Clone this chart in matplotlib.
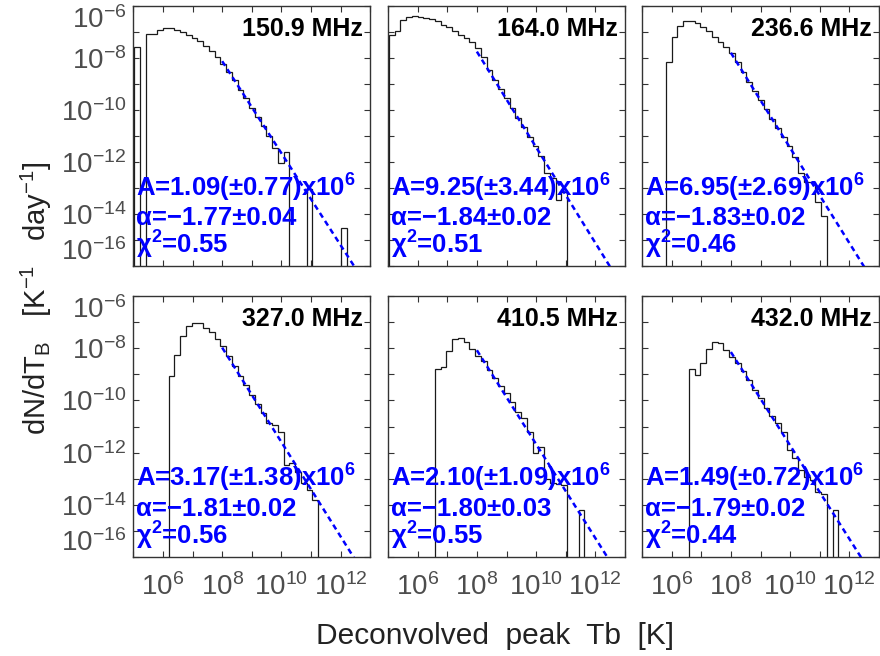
import numpy as np
import matplotlib
matplotlib.use("Agg")
import matplotlib.pyplot as plt
from matplotlib.ticker import NullLocator

plt.rcParams["font.family"] = ["Liberation Sans", "DejaVu Sans"]
plt.rcParams["mathtext.fontset"] = "custom"
plt.rcParams["mathtext.rm"] = "Liberation Sans"
plt.rcParams["mathtext.it"] = "Liberation Sans:italic"
plt.rcParams["mathtext.bf"] = "Liberation Sans:bold"
plt.rcParams["mathtext.default"] = "regular"

N = None

# Observing frequencies and power-law fit results dN/dT_B = A * T_B^alpha
freq_mhz = ["150.9", "164.0", "236.6", "327.0", "410.5", "432.0"]
amp = [1.09, 9.25, 6.95, 3.17, 2.10, 1.49]
amp_err = [0.77, 3.44, 2.69, 1.38, 1.09, 0.72]
alpha = [-1.77, -1.84, -1.83, -1.81, -1.80, -1.79]
alpha_err = [0.04, 0.02, 0.02, 0.02, 0.03, 0.02]
chi2 = [0.55, 0.51, 0.46, 0.56, 0.55, 0.44]
AMP_EXP = 6
FIT_TMIN = 1e8

# Histograms: log10(dN/dT_B) per logarithmic Tb bin (None = empty bin)
BIN_LO = 5.03     # log10 of the first bin edge [K]
BIN_DEX = 0.194   # bin width in dex

logdens_1509 = [-7.56, N, -7.09, -7.09, -6.92, -6.85, -6.83, -6.92, -7.00, -7.10,
                -7.22, -7.36, -7.52, -7.72, -7.95, -8.22, -8.55, -8.85, -9.22, -9.55,
                -9.92, -10.25, -10.62, -11.00, -11.47, -12.05, -11.60, N, N, N,
                -13.05, N, N, N, N, N, -14.55, N]
logdens_1640 = [-7.10, -6.95, -6.54, -6.44, -6.40, -6.41, -6.46, -6.51, -6.59, -6.72,
                -6.82, -6.95, -7.10, -7.24, -7.40, -7.62, -7.98, -8.45, -8.85, -9.18,
                -9.55, -9.93, -10.30, -10.66, -11.02, -11.38, -11.75, -12.42, -12.60, -13.45,
                -13.15, N, N, N, N, N, N, N]
logdens_2366 = [N, N, N, N, -8.17, -7.21, -6.76, -6.56, -6.59, -6.67,
                -6.80, -6.95, -7.18, -7.37, -7.56, -7.82, -8.15, -8.55, -8.92, -9.25,
                -9.62, -9.98, -10.33, -10.70, -11.05, -11.40, -11.80, -12.42, -12.75, -12.78,
                -13.55, -14.08, N, N, N, N, N, N]
logdens_3270 = [N, N, N, N, N, N, -9.05, -8.26, -7.53, -7.15,
                -7.02, -7.05, -7.21, -7.39, -7.66, -7.92, -8.30, -8.70, -9.05, -9.42,
                -9.78, -10.12, -10.50, -10.85, -10.95, -11.20, -12.48, -12.39, -12.73, -13.18,
                -13.43, -13.82, N, N, N, N, N, N]
logdens_4105 = [N, N, N, N, N, N, N, N, -8.81, -8.73,
                -8.09, -7.66, -7.62, -7.75, -8.04, -8.30, -8.50, -8.85, -9.15, -9.45,
                -9.73, -10.05, -10.43, -10.69, -11.20, -12.00, -11.77, -13.00, -13.15, -13.20,
                -13.25, N, N, -14.20, N, N, N, N]
logdens_4320 = [N, N, N, N, N, N, N, N, -8.81, -9.03,
                -8.58, -8.04, -7.75, -7.79, -8.07, -8.35, -8.55, -8.88, -9.22, -9.60,
                -9.92, -10.28, -10.60, -10.88, -11.20, -11.90, -12.22, -12.67, -12.95, -13.05,
                -13.50, -13.60, N, -14.20, N, N, N, N]

histograms = [logdens_1509, logdens_1640, logdens_2366,
              logdens_3270, logdens_4105, logdens_4320]

XMIN, XMAX = 10 ** 5.1, 1e13
YMIN, YMAX = 1e-16, 1e-6
ZERO = 1e-30

FIG_W, FIG_H = 880, 656
fig = plt.figure(figsize=(FIG_W / 100, FIG_H / 100), dpi=100)

col_left = [133.3, 388.0, 642.0]
col_width = 237.0
row_box = [(6.0, 266.0), (296.0, 557.0)]

tick_col = "#4d4d4d"
x_exps = np.arange(5, 14)
y_exps = np.arange(-16, -5)

for i in range(6):
    r, c = divmod(i, 3)
    top, bot = row_box[r]
    ax = fig.add_axes([col_left[c] / FIG_W, 1 - bot / FIG_H,
                       col_width / FIG_W, (bot - top) / FIG_H])
    ax.set_xscale("log")
    ax.set_yscale("log")
    ax.set_xlim(XMIN, XMAX)
    ax.set_ylim(YMIN, YMAX)

    # histogram outline, empty bins drop to the bottom
    vals = np.array([np.nan if v is None else v for v in histograms[i]], float)
    dens = np.where(np.isnan(vals), ZERO, 10.0 ** vals)
    edges = 10.0 ** (BIN_LO + BIN_DEX * np.arange(len(dens) + 1))
    ax.stairs(dens, edges, baseline=ZERO, color="#1a1a1a", lw=0.9, zorder=2)

    # power-law fit
    t = np.array([FIT_TMIN, XMAX])
    ax.plot(t, amp[i] * 10.0 ** AMP_EXP * t ** alpha[i], color="#0000ff",
            lw=1.8, ls=(0, (2.2, 1.6)), zorder=3)

    # ticks every decade, labels every second decade
    xticks = 10.0 ** x_exps
    yticks = 10.0 ** y_exps
    xlabels = [f"$10^{{{e}}}$" if (r == 1 and e % 2 == 0 and e > 5) else "" for e in x_exps]
    ylabels = [f"$10^{{{e}}}$" if (c == 0 and e % 2 == 0) else "" for e in y_exps]
    ax.set_xticks(xticks, xlabels)
    ax.set_yticks(yticks, ylabels)
    ax.xaxis.set_minor_locator(NullLocator())
    ax.yaxis.set_minor_locator(NullLocator())
    ax.tick_params(which="major", direction="in", top=True, right=True,
                   length=4.5, width=0.8, color="#333333",
                   labelsize=20, labelcolor=tick_col)
    ax.tick_params(axis="x", pad=12)
    ax.tick_params(axis="y", pad=5)
    if c == 0:
        ylabs = ax.get_yticklabels()
        ylabs[0].set_va("bottom")
        ylabs[-1].set_va("top")
    for sp in ax.spines.values():
        sp.set_color("#333333")
        sp.set_linewidth(1.0)

    ax.text(0.969, 0.885, f"{freq_mhz[i]} MHz", transform=ax.transAxes,
            ha="right", va="baseline", fontsize=18, fontweight="bold",
            color="black", zorder=5)

    a_txt = (f"A={amp[i]:.2f}(\u00b1{amp_err[i]:.2f})x10"
             f"$^{{\\mathbf{{{AMP_EXP}}}}}$")
    al_txt = f"\u03b1={alpha[i]:.2f}\u00b1{alpha_err[i]:.2f}".replace("-", "\u2212")
    ch_txt = f"\u03c7$^{{\\mathbf{{2}}}}$={chi2[i]:.2f}"
    for txt, yy in zip([a_txt, al_txt, ch_txt], [0.268, 0.157, 0.046]):
        ax.text(0.012, yy, txt, transform=ax.transAxes, ha="left",
                va="baseline", fontsize=18.5, fontweight="bold",
                color="#0000ff", zorder=6, clip_on=False)

fig.text(36 / FIG_W, 1 - 298 / FIG_H,
         "dN/dT$_{B}$   [K$^{-1}$   day$^{-1}$]", rotation=90,
         ha="center", va="center", fontsize=21, color="#222222")
fig.text(495 / FIG_W, 1 - 636 / FIG_H, "Deconvolved  peak  Tb  [K]",
         ha="center", va="center", fontsize=21.5, color="#222222")

fig.savefig("out.png", dpi=100)
